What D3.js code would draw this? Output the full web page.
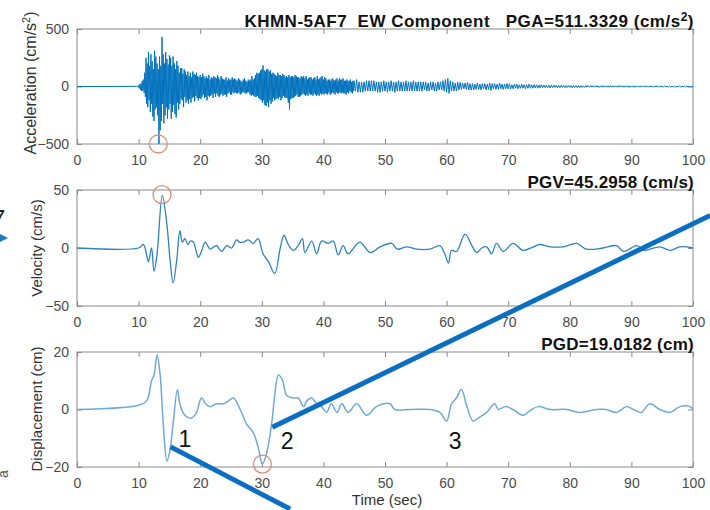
<!DOCTYPE html>
<html><head><meta charset="utf-8">
<script src="https://cdn.jsdelivr.net/npm/d3@7"></script>
<style>
html,body{margin:0;padding:0;background:#fff;}
svg{display:block;}
text{font-family:"Liberation Sans",Arial,sans-serif;}
</style></head>
<body>
<svg id="chart" width="710" height="510"></svg>
<script>
// ---------------- data ----------------
const xTicks = [0,10,20,30,40,50,60,70,80,90,100];
const accTicks = [-500,0,500];
const velTicks = [-50,0,50];
const dispTicks = [-20,0,20];

// acceleration (cm/s^2), strong-motion part: samples every 0.1 s from 9.6 s (zero before)
const accStart1 = 9.6, accStep1 = 0.1;
const accValues1 = [
  1,-2,3,-4,
  8,-15,20,-30,25,-40,50,-35,60,-55,
  120,-90,250,-150,200,-180,300,-120,180,-220,
  280,-150,220,-260,150,-300,310,-200,260,-180,
  200,-250,150,-511,260,-380,180,-300,430,-150,
  280,-320,200,-250,300,-180,240,-280,190,-200,
  270,-150,250,-280,180,-220,260,-160,200,-240,
  150,-270,220,-140,180,-200,120,-150,160,-110,
  160,-120,110,-180,150,-90,130,-140,100,-120,
  130,-150,90,-110,120,-140,80,-100,130,-90,
  110,-130,100,-80,120,-100,90,-120,80,-100,
  100,-110,80,-90,110,-70,90,-100,70,-90,
  90,-120,70,-80,100,-90,60,-80,80,-70,
  70,-100,90,-60,80,-90,70,-60,100,-80,
  80,-90,60,-70,90,-60,70,-80,60,-70,
  60,-70,80,-90,50,-60,70,-50,60,-70,
  60,-70,80,-50,60,-60,70,-50,60,-60,
  50,-60,70,-50,60,-70,50,-60,40,-50,
  60,-50,70,-60,50,-60,40,-50,60,-50,
  50,-70,60,-80,90,-70,60,-80,70,-90,
  100,-90,120,-80,110,-100,120,-110,140,-120,
  150,-140,183,-120,140,-160,130,-170,150,-140,
  150,-180,130,-120,140,-150,110,-130,120,-100,
  110,-120,100,-110,90,-100,120,-110,100,-90,
  100,-120,90,-100,110,-80,100,-90,80,-100,
  90,-100,80,-140,100,-200,80,-110,90,-100,
  90,-100,80,-90,100,-80,90,-70,80,-90,
  80,-90,70,-80,90,-70,80,-60,90,-70,
  70,-80,90,-70,60,-80,70,-60,80,-70,
  80,-70,60,-80,70,-60,80,-70,60,-80,
  90,-70,60,-80,70,-60,80,-70,90,-60,
  60,-70,80,-60,70,-60,50,-70,60,-50,
  60,-70,50,-60,70,-50,60,-60,50,-70,
  60,-50,70,-60,50,-60,70,-50,60,-60,
  60,-50,70,-60,50,-60,50,-70,60,-50,
  50,-60,50,-40,60,-50,40,-60,50,-40
];
// acceleration, coda: samples every 0.2 s from 45 s
const accStart2 = 45, accStep2 = 0.2;
const accValues2 = [
  50,-40,60,-50,40,
  -50,40,-50,40,-40,
  50,-40,50,-40,50,
  -40,50,-40,40,-50,
  40,-50,40,-40,50,
  -40,40,-50,40,-40,
  50,-40,40,-50,40,
  -40,50,-40,40,-40,
  40,-40,50,-40,40,
  -40,40,-40,50,-40,
  40,-40,40,-40,40,
  -40,40,-30,40,-40,
  30,-40,40,-30,40,
  -40,30,-40,40,-30,
  40,-30,50,-40,60,
  -50,70,-60,50,-40,
  40,-40,30,-40,40,
  -30,35,-25,30,-20,
  30,-25,35,-30,25,
  -30,25,-30,20,-25,
  30,-25,20,-30,25,
  -20,25,-30,20,-25,
  30,-35,25,-20,25,
  -25,20,-25,30,-20,
  20,-25,20,-20,25,
  -20,25,-20,15,-20,
  20,-15,20,-20,15,
  -15,20,-15,15,-20,
  15,-15,20,-15,15,
  -15,15,-12,15,-15,
  12,-12,15,-10,12,
  -10,12,-10,10,-12,
  10,-10,12,-8,10,
  -10,8,-10,10,-8,
  8,-10,8,-8,10,
  -8,8,-10,8,-8,
  8,-8,8,-10,8,
  -8,6,-8,8,-6,
  8,-6,8,-6,6,
  -6,8,-6,6,-8,
  6,-6,8,-6,6,
  -6,6,-6,8,-6,
  6,-6,6,-6,8,
  -6,8,-6,6,-6,
  6,-6,6,-8,6,
  -6,6,-8,6,-5,
  5,-6,5,-5,6,
  -5,6,-5,5,-6,
  6,-5,5,-6,5,
  -5,5,-6,5,-5,
  5,-5,5,-4,5,
  -5,4,-5,5,-4,
  4,-5,4,-4,5,
  -4,4,-5,4,-4,
  4,-4,3,-3,2,
  0
];

// velocity (cm/s): [time, value]
const velPoints = [
  [0,0],[10,0],[10.8,3],[11.3,-6],[11.6,-12],[12.1,0],[12.5,-20],[13.0,-5],[13.85,45.3],
  [14.6,20],[15.1,-10],[15.6,-30],[16.2,-10],[16.7,15],[17.1,5],[17.5,8],[18.0,3],[18.4,6],[18.9,5],
  [19.3,-2],[19.7,-8],[20.2,-3],[20.8,5],[21.2,2],[21.6,-1],[22.2,1],[22.7,2],[23.1,-1],[23.5,-3],[24.3,2],[25.1,0],[25.9,7],[26.4,5],[27.0,5],
  [27.8,7],[28.6,4],[29.4,8],[30.2,-5],[31.1,-12],[32.1,-22],[33.0,0],[33.6,11],[34.3,3],
  [35.1,-2],[35.9,2],[36.6,8],[37.0,-4],[38.1,6],[38.9,-5],[39.7,6],[40.8,4],[41.6,6],
  [42.4,-6],[43.2,2],[44.0,-5],[45.9,5],[47.6,-4],[49.2,1],[51.1,4],[52.0,-1],[53.5,1],
  [55.1,-1],[57.3,-1],[58.9,2],[59.7,-5],[60.3,-13],[60.8,-2],[61.6,-3],[63.0,12],[64.1,2],
  [64.9,-4],[65.7,0],[66.5,1],[67.3,-5],[68.1,4],[69.2,-3],[70.8,4],[72.4,-2],[74.1,1],
  [75.1,3],[76.8,1],[78.9,1],[81.1,4],[82.7,-1],[85.4,0],[87.6,2],[88.7,-3],[90.9,2],
  [92.0,-2],[94.6,1],[96.3,-2],[97.9,1],[100,0]
];

// displacement (cm): [time, value]
const dispPoints = [
  [0,0],[10,1.5],[11.3,3],[12.1,10],[12.5,12],[13.0,19.0],[13.5,12],[14.0,-5],[14.6,-18],
  [15.1,-14],[15.6,-5],[16.3,7],[16.7,2],[17.5,-2],[18.6,-3],[19.4,-1],[20.2,4],[20.9,2],
  [21.6,1],[22.7,2],[23.8,2],[24.6,3],[25.4,4],[26.5,0],[27.5,-5],[28.6,-8],[29.4,-13],
  [30.1,-19],[30.8,-15],[31.6,-5],[32.1,5],[32.7,12],[33.4,10],[34.0,5],[35.1,4],[35.9,4],
  [36.8,1],[37.3,3],[38.1,4],[38.9,2],[39.7,1],[40.5,-1],[41.3,2],[42.2,-1],[43.0,2],
  [44.0,-1],[45.4,2],[47.0,-2],[48.6,1],[50.8,2],[51.6,0],[54.1,0],[57.3,0],[58.9,-1],
  [60.0,-4],[60.8,2],[61.6,4],[62.4,7],[63.3,1],[64.3,-4],[65.1,-3],[66.5,-1],[67.8,2],
  [68.4,0],[69.5,1],[70.8,0],[72.4,-2],[73.8,0],[74.9,1],[76.8,0],[79.5,0],[81.6,-1],
  [84.3,0],[85.9,0],[87.6,-1],[89.2,1],[90.3,0],[91.6,-1],[93.0,2],[94.6,0],[96.3,-1],
  [97.9,1],[99.5,1],[100,0]
];

// peak markers [time, value] per panel
const peakAcc = [13.2, -500];
const peakVel = [13.8, 46];
const peakDisp = [30.1, -19.0];

// annotation numbers (panel 3 coords) and overlay lines
const noteLabels = ["1","2","3"];
const notePos = [[17.5,-13.1],[34.1,-13.8],[61.4,-13.8]];
const overlayLines = [[[15.2,-13],[34.6,-34.6]],[[31.7,-6.2],[102.8,67.5]]];

// ---------------- drawing ----------------
const svg = d3.select("#chart");
const L = 77, R = 693;
const x = d3.scaleLinear().domain([0,100]).range([L,R]);
const axisCol = "#8a8a8a", tickTextCol = "#4a4a4a";

function panel(top, bottom, yDomain, yTicks, id) {
  const y = d3.scaleLinear().domain(yDomain).range([bottom, top]);
  const g = svg.append("g");
  svg.append("clipPath").attr("id", id).append("rect")
    .attr("x", L).attr("y", top).attr("width", R-L).attr("height", bottom-top);
  g.append("g").attr("transform", `translate(0,${bottom})`)
    .call(d3.axisBottom(x).tickValues(xTicks).tickSize(-5).tickPadding(11).tickFormat(d3.format("d")))
    .call(a => { a.select(".domain").remove(); a.selectAll("line").attr("stroke", axisCol);
      a.selectAll("text").attr("fill", tickTextCol).attr("font-size", 14); });
  g.append("g").attr("transform", `translate(0,${top})`)
    .call(d3.axisTop(x).tickValues(xTicks).tickSize(-5).tickFormat(""))
    .call(a => { a.select(".domain").remove(); a.selectAll("line").attr("stroke", axisCol); });
  g.append("g").attr("transform", `translate(${L},0)`)
    .call(d3.axisLeft(y).tickValues(yTicks).tickSize(-5).tickPadding(8))
    .call(a => { a.select(".domain").remove(); a.selectAll("line").attr("stroke", axisCol);
      a.selectAll("text").attr("fill", tickTextCol).attr("font-size", 14); });
  g.append("g").attr("transform", `translate(${R},0)`)
    .call(d3.axisRight(y).tickValues(yTicks).tickSize(-5).tickFormat(""))
    .call(a => { a.select(".domain").remove(); a.selectAll("line").attr("stroke", axisCol); });
  g.append("rect").attr("x", L).attr("y", top).attr("width", R-L).attr("height", bottom-top)
    .attr("fill", "none").attr("stroke", axisCol).attr("stroke-width", 1);
  return y;
}

// Panel 1 - acceleration
const y1 = panel(29, 144, [-500,500], accTicks, "c1");
const accData = [[0,0]]
  .concat(accValues1.map((v,i) => [accStart1 + i*accStep1, v]))
  .concat(accValues2.map((v,i) => [accStart2 + i*accStep2, v]));
svg.append("path").datum(accData).attr("clip-path", "url(#c1)")
  .attr("fill", "none").attr("stroke", "#0072BD").attr("stroke-width", 1)
  .attr("stroke-linejoin", "round")
  .attr("d", d3.line().x(d => x(d[0])).y(d => y1(d[1])));

// Panel 2 - velocity
const y2 = panel(190, 306, [-50,50], velTicks, "c2");
svg.append("path").datum(velPoints).attr("clip-path", "url(#c2)")
  .attr("fill", "none").attr("stroke", "#2f82c2").attr("stroke-width", 1.3)
  .attr("d", d3.line().curve(d3.curveCatmullRom).x(d => x(d[0])).y(d => y2(d[1])));

// Panel 3 - displacement
const y3 = panel(352, 467, [-20,20], dispTicks, "c3");
svg.append("path").datum(dispPoints).attr("clip-path", "url(#c3)")
  .attr("fill", "none").attr("stroke", "#6eaad6").attr("stroke-width", 1.5)
  .attr("d", d3.line().curve(d3.curveCatmullRom).x(d => x(d[0])).y(d => y3(d[1])));

// peak circles
[[peakAcc,y1],[peakVel,y2],[peakDisp,y3]].forEach(([p,ys]) => {
  svg.append("circle").attr("cx", x(p[0])).attr("cy", ys(p[1])).attr("r", 9)
    .attr("fill", "none").attr("stroke", "#dc8f70").attr("stroke-width", 1.3);
});

// titles
function title(yb, ls, parts) {
  const t = svg.append("text").attr("x", R+1).attr("y", yb).attr("text-anchor", "end")
    .attr("font-size", 17).attr("font-weight", "bold").attr("fill", "#111")
    .attr("letter-spacing", ls).style("white-space", "pre");
  parts.forEach(p => {
    if (p.sup) t.append("tspan").attr("dy", -6).attr("font-size", 12).text(p.t);
    else if (p.after) t.append("tspan").attr("dy", 6).text(p.t);
    else t.append("tspan").text(p.t);
  });
}
title(27, 0.5, [{t:"KHMN-5AF7  EW Component   PGA=511.3329 (cm/s"},{t:"2",sup:true},{t:")",after:true}]);
title(188, 0.25, [{t:"PGV=45.2958 (cm/s)"}]);
title(350, 0.25, [{t:"PGD=19.0182 (cm)"}]);

// y labels
function ylabel(xb, yc, fs, parts) {
  const t = svg.append("text").attr("transform", `translate(${xb},${yc}) rotate(-90)`)
    .attr("text-anchor", "middle").attr("font-size", fs).attr("fill", "#333");
  parts.forEach(p => {
    if (p.sup) t.append("tspan").attr("dy", -6).attr("font-size", 11).text(p.t);
    else if (p.after) t.append("tspan").attr("dy", 6).text(p.t);
    else t.append("tspan").text(p.t);
  });
}
ylabel(36, 83, 16, [{t:"Acceleration (cm/s"},{t:"2",sup:true},{t:")",after:true}]);
ylabel(42, 248, 15, [{t:"Velocity (cm/s)"}]);
ylabel(42, 409, 15, [{t:"Displacement (cm)"}]);

// x label
svg.append("text").attr("x", 387).attr("y", 505).attr("text-anchor", "middle")
  .attr("font-size", 15).attr("fill", "#333").text("Time (sec)");

// overlay lines
overlayLines.forEach(l => {
  svg.append("line").attr("x1", x(l[0][0])).attr("y1", y3(l[0][1]))
    .attr("x2", x(l[1][0])).attr("y2", y3(l[1][1]))
    .attr("stroke", "#0a6fc2").attr("stroke-width", 5);
});

// annotation numbers
noteLabels.forEach((s,i) => {
  svg.append("text").attr("x", x(notePos[i][0])).attr("y", y3(notePos[i][1]))
    .attr("text-anchor", "middle").attr("font-family", "Lato, 'Open Sans', sans-serif")
    .attr("font-size", 23).attr("fill", "#111").text(s);
});

// cropped edge fragments from the source figure
svg.append("text").attr("x", -9).attr("y", 228).attr("font-size", 26)
  .attr("font-family", "Lato, sans-serif").attr("fill", "#222").text("7");
svg.append("path").attr("d", "M0,234 L8,238 L0,242 Z").attr("fill", "#1f77c8");
svg.append("text").attr("transform", "translate(8,478) rotate(-90)").attr("font-size", 14)
  .attr("fill", "#555").text("a");
</script>
</body></html>
